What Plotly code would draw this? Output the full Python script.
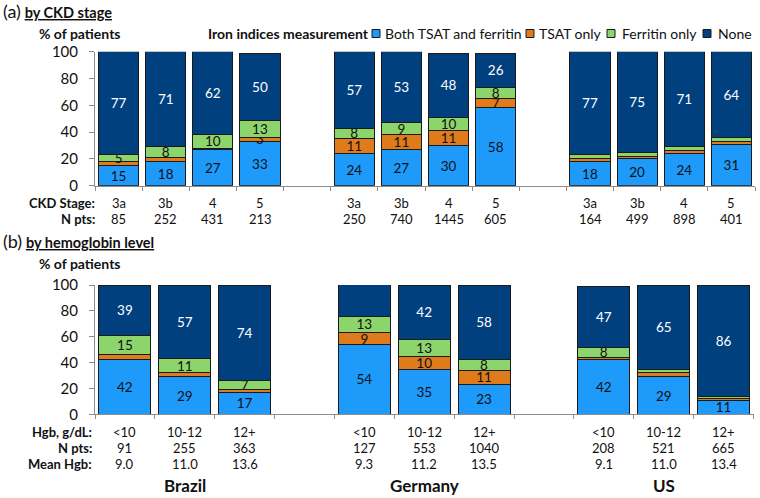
import plotly.graph_objects as go

# ---------------- data ----------------
series_names = ["Both TSAT and ferritin", "TSAT only", "Ferritin only", "None"]
countries = ["Brazil", "Germany", "US"]

# Panel (a): by CKD stage (Brazil x4, Germany x4, US x4)
a_stage = ["3a", "3b", "4", "5", "3a", "3b", "4", "5", "3a", "3b", "4", "5"]
a_npts = ["85", "252", "431", "213", "250", "740", "1445", "605", "164", "499", "898", "401"]
a_both = [15, 18, 27, 33, 24, 27, 30, 58, 18, 20, 24, 31]
a_tsat = [3, 3, 1, 3, 11, 11, 11, 7, 2, 2, 2, 2]
a_ferr = [5, 8, 10, 13, 8, 9, 10, 8, 3, 3, 3, 3]
a_none = [77, 71, 62, 50, 57, 53, 48, 26, 77, 75, 71, 64]
a_tsat_lbl = ["", "", "", "3", "11", "11", "11", "7", "", "", "", ""]
a_ferr_lbl = ["5", "8", "10", "13", "8", "9", "10", "8", "", "", "", ""]

# Panel (b): by hemoglobin level (Brazil x3, Germany x3, US x3)
b_hgb = ["<10", "10-12", "12+", "<10", "10-12", "12+", "<10", "10-12", "12+"]
b_npts = ["91", "255", "363", "127", "553", "1040", "208", "521", "665"]
b_mean = ["9.0", "11.0", "13.6", "9.3", "11.2", "13.5", "9.1", "11.0", "13.4"]
b_both = [42, 29, 17, 54, 35, 23, 42, 29, 11]
b_tsat = [4, 3, 2, 9, 10, 11, 2, 3, 1]
b_ferr = [15, 11, 7, 13, 13, 8, 8, 3, 2]
b_none = [39, 57, 74, 25, 42, 58, 47, 65, 86]
b_tsat_lbl = ["", "", "", "9", "10", "11", "", "", ""]
b_ferr_lbl = ["15", "11", "7", "13", "13", "8", "8", "", ""]

y_ticks = [0, 20, 40, 60, 80, 100]

# ---------------- style ----------------
COLORS = ["#1E9AFA", "#E07B1C", "#8CD46C", "#00407F"]
TXTCOL = ["#111111", "#111111", "#111111", "#FFFFFF"]
FONT = "Lato, Carlito, Calibri, sans-serif"
W, H = 760, 498


def px(x):
    return x / W


def py(y):
    return 1 - y / H


fig = go.Figure()

# positions: groups separated by an empty slot
a_x = [g * 5 + j for g in range(3) for j in range(4)]
b_x = [g * 4 + j for g in range(3) for j in range(3)]

a_vals = [a_both, a_tsat, a_ferr, a_none]
a_lbls = [[str(v) for v in a_both], a_tsat_lbl, a_ferr_lbl, [str(v) for v in a_none]]
b_vals = [b_both, b_tsat, b_ferr, b_none]
b_lbls = [[str(v) for v in b_both], b_tsat_lbl, b_ferr_lbl, [str(v) for v in b_none]]

for i in range(4):
    fig.add_trace(go.Bar(
        x=a_x, y=a_vals[i], text=a_lbls[i], name=series_names[i],
        xaxis="x", yaxis="y", width=0.85,
        marker=dict(color=COLORS[i], line=dict(color="#1a1a1a", width=1)),
        textposition="inside", insidetextanchor="middle", textangle=0,
        constraintext="none", cliponaxis=False,
        textfont=dict(family=FONT, size=13.5, color=TXTCOL[i]),
        showlegend=False, hoverinfo="skip"))
for i in range(4):
    fig.add_trace(go.Bar(
        x=b_x, y=b_vals[i], text=b_lbls[i], name=series_names[i],
        xaxis="x2", yaxis="y2", width=0.87,
        marker=dict(color=COLORS[i], line=dict(color="#1a1a1a", width=1)),
        textposition="inside", insidetextanchor="middle", textangle=0,
        constraintext="none", cliponaxis=False,
        textfont=dict(family=FONT, size=13.5, color=TXTCOL[i]),
        showlegend=False, hoverinfo="skip"))

axis_common = dict(showgrid=False, zeroline=False, showline=True, automargin=False,
                   linecolor="#8c8c8c", linewidth=1, ticks="outside",
                   tickcolor="#8c8c8c", fixedrange=True)

fig.update_layout(
    template="none",
    width=W, height=H, margin=dict(l=0, r=0, t=0, b=0, autoexpand=False),
    paper_bgcolor="white", plot_bgcolor="white", barmode="stack",
    font=dict(family=FONT, size=14, color="#111111"),
    xaxis=dict(domain=[px(95), px(755)], range=[-0.5, 13.5], anchor="y",
               tickvals=[k - 0.5 for k in range(15)], showticklabels=False,
               ticklen=4, **axis_common),
    yaxis=dict(domain=[py(185.7), py(51.7)], range=[0, 100], anchor="x",
               tickvals=y_ticks, ticklen=5, ticklabelstandoff=8,
               tickfont=dict(family=FONT, size=15, color="#111111"), **axis_common),
    xaxis2=dict(domain=[px(95), px(753.5)], range=[-0.5, 10.5], anchor="y2",
                tickvals=[k - 0.5 for k in range(12)], showticklabels=False,
                ticklen=4, **axis_common),
    yaxis2=dict(domain=[py(414.3), py(285)], range=[0, 100], anchor="x2",
                tickvals=y_ticks, ticklen=5, ticklabelstandoff=8,
                tickfont=dict(family=FONT, size=15, color="#111111"), **axis_common),
)

ann = []


def text(x, y, s, size=14, anchor="left", xref="paper", color="#111111"):
    ann.append(dict(x=x, y=y, xref=xref, yref="paper", text=s, showarrow=False,
                    xanchor=anchor, yanchor="middle",
                    font=dict(family=FONT, size=size, color=color)))


# titles
text(px(1), py(11), "<span style='font-size:18px'>(a)</span> <b><u>by CKD stage</u></b>", size=14.5)
text(px(37), py(33), "<b>% of patients</b>", size=14)
text(px(1), py(241), "<span style='font-size:18px'>(b)</span> <b><u>by hemoglobin level</u></b>", size=14.5)
text(px(37), py(263), "<b>% of patients</b>", size=14)

# legend
text(px(371), py(33), "<b>Iron indices measurement</b>", size=14, anchor="right")
leg_sq = [372, 526, 607, 703]
leg_tx = [383, 537, 620, 716]
shapes = []
for i in range(4):
    shapes.append(dict(type="rect", xref="paper", yref="paper",
                       x0=px(leg_sq[i]), x1=px(leg_sq[i] + 8),
                       y0=py(37.5), y1=py(29.5),
                       fillcolor=COLORS[i], line=dict(color="#1a1a1a", width=1)))
    text(px(leg_tx[i]), py(33), series_names[i], size=14)

# panel (a) category labels
text(px(97), py(203), "<b>CKD Stage:</b>", size=13, anchor="right")
text(px(97), py(219), "<b>N pts:</b>", size=13, anchor="right")
for k in range(len(a_x)):
    text(a_x[k], py(203), a_stage[k], size=13, anchor="center", xref="x")
    text(a_x[k], py(219), a_npts[k], size=13, anchor="center", xref="x")

# panel (b) category labels
text(px(94), py(432), "<b>Hgb, g/dL:</b>", size=13, anchor="right")
text(px(94), py(448), "<b>N pts:</b>", size=13, anchor="right")
text(px(94), py(464), "<b>Mean Hgb:</b>", size=13, anchor="right")
for k in range(len(b_x)):
    text(b_x[k], py(432), b_hgb[k], size=13, anchor="center", xref="x2")
    text(b_x[k], py(448), b_npts[k], size=13, anchor="center", xref="x2")
    text(b_x[k], py(464), b_mean[k], size=13, anchor="center", xref="x2")
for g in range(3):
    text(b_x[g * 3 + 1], py(485), "<b>%s</b>" % countries[g], size=17,
         anchor="center", xref="x2")

fig.update_layout(annotations=ann, shapes=shapes)
fig.write_html("out.html", config={"displayModeBar": False},
               post_script="document.body.style.margin='0';document.body.style.overflow='hidden';")
